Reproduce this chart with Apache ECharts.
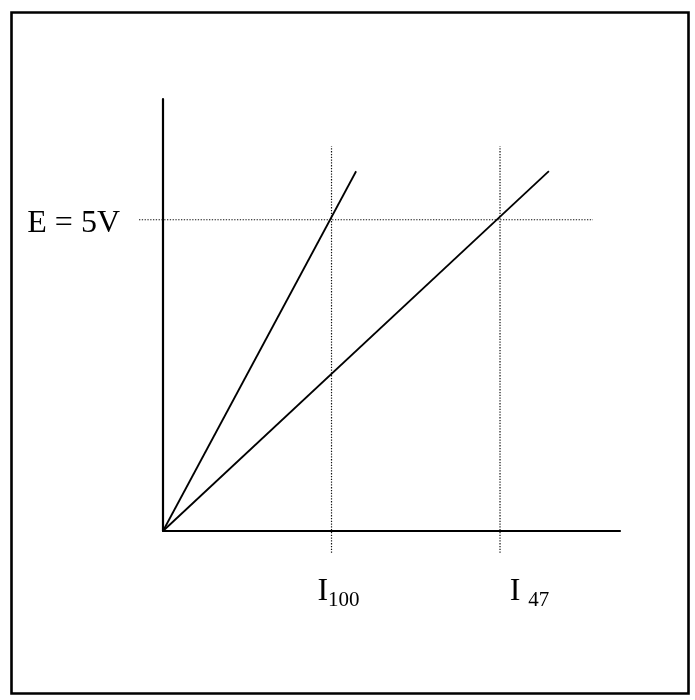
<!DOCTYPE html>
<html>
<head>
<meta charset="utf-8">
<script src="https://cdn.jsdelivr.net/npm/echarts@6/dist/echarts.min.js"></script>
<style>
  html, body { margin: 0; padding: 0; background: #fff; }
  #chart { width: 695px; height: 700px; }
</style>
</head>
<body>
<div id="chart"></div>
<script>
// values (x in mA-ish units, y in volts)
const eLevel = 5
const eLabel = 'E = 5V'
const iTicks = [50, 100]
const iNames = ['100', '47']
const steepLine = [[0, 0], [57.3, 5.78]]
const shallowLine = [[0, 0], [114.5, 5.78]]
const eGuide = [[-7.1, 5], [127.6, 5]]
const i100Guide = [[50, -0.35], [50, 6.18]]
const i47Guide = [[100, -0.35], [100, 6.18]]

const xMax = 135.6
const yMax = 6.94

const serif = "'Liberation Serif', 'Times New Roman', serif"
const chart = echarts.init(document.getElementById('chart'))

const solid = { color: '#000', width: 1.8 }
const dotted = { color: '#111', width: 1.2, type: [1.3, 1.5] }

function guide(data, idx) {
  return { type: 'line', data, symbol: 'none', clip: false, silent: true, lineStyle: dotted, z: 1, xAxisIndex: idx, yAxisIndex: idx }
}

// the E guide runs left of the y axis, so it sits on a second, hidden grid
// whose x range starts below zero (line series clamp x to the axis range)
const hidden = { show: false }

chart.setOption({
  animation: false,
  backgroundColor: '#fff',
  grid: [
    { left: 163, top: 99, right: 75, bottom: 169, containLabel: false, outerBoundsMode: 'none' },
    { left: 139, top: 99, right: 102, bottom: 169, containLabel: false, outerBoundsMode: 'none' }
  ],
  xAxis: [{
    type: 'value', min: 0, max: xMax,
    axisLine: { onZero: false, lineStyle: { color: '#000', width: 2.2 } },
    axisTick: { show: false },
    splitLine: { show: false },
    axisLabel: {
      customValues: iTicks,
      margin: 45,
      color: '#000',
      fontFamily: serif,
      formatter: v => v === iTicks[0] ? `{a|I}{s|${iNames[0]}}` : `{b|I }{s|${iNames[1]}}`,
      rich: {
        a: { fontSize: 32, fontFamily: serif, color: '#000', padding: [0, 0, 0, 14], verticalAlign: 'top' },
        b: { fontSize: 32, fontFamily: serif, color: '#000', padding: [0, 0, 0, 59], verticalAlign: 'top' },
        s: { fontSize: 21, fontFamily: serif, color: '#000', verticalAlign: 'top', padding: [14, 0, 0, 0] }
      }
    }
  }, {
    type: 'value', gridIndex: 1, min: eGuide[0][0], max: eGuide[1][0],
    axisLine: hidden, axisTick: hidden, axisLabel: hidden, splitLine: hidden
  }],
  yAxis: [{
    type: 'value', min: 0, max: yMax,
    axisLine: { show: true, onZero: false, lineStyle: { color: '#000', width: 2.2 } },
    axisTick: { show: false },
    splitLine: { show: false },
    axisLabel: {
      customValues: [eLevel],
      formatter: () => `{e|${eLabel}}`,
      margin: 43,
      color: '#000',
      rich: {
        e: { fontSize: 32, fontFamily: serif, color: '#000', padding: [8, 0, 0, 0] }
      }
    }
  }, {
    type: 'value', gridIndex: 1, min: 0, max: yMax,
    axisLine: hidden, axisTick: hidden, axisLabel: hidden, splitLine: hidden
  }],
  series: [
    { type: 'line', data: steepLine, symbol: 'none', lineStyle: solid, z: 3 },
    { type: 'line', data: shallowLine, symbol: 'none', lineStyle: solid, z: 3 },
    guide(eGuide, 1),
    guide(i100Guide, 0),
    guide(i47Guide, 0)
  ],
  graphic: [{
    type: 'rect',
    left: 9, top: 10,
    shape: { width: 677, height: 681 },
    style: { fill: 'none', stroke: '#000', lineWidth: 2.6 },
    silent: true
  }]
})
</script>
</body>
</html>
